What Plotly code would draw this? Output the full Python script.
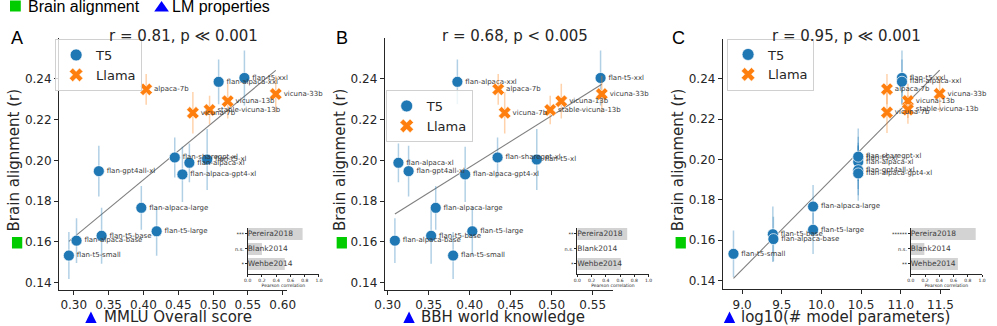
import numpy as np
import plotly.graph_objects as go

W, H = 997, 326


def fx(px):
    return px / W


def fy(py):
    return 1 - py / H


# ---------------- data ----------------
t5_models = ["flan-t5-small", "flan-t5-base", "flan-alpaca-base", "flan-t5-large",
             "flan-alpaca-large", "flan-t5-xl", "flan-alpaca-xl", "flan-sharegpt-xl",
             "flan-gpt4all-xl", "flan-alpaca-gpt4-xl", "flan-t5-xxl", "flan-alpaca-xxl"]
llama_models = ["alpaca-7b", "vicuna-7b", "vicuna-13b", "stable-vicuna-13b", "vicuna-33b"]

t5_brain = [0.1533, 0.1630, 0.1606, 0.1652, 0.1767, 0.2004, 0.1988, 0.2014,
            0.1947, 0.1931, 0.2404, 0.2385]
t5_err = [0.0115, 0.0137, 0.0110, 0.0120, 0.0107, 0.0150, 0.0095, 0.0098,
          0.0124, 0.0135, 0.0135, 0.0110]
llama_brain = [0.2348, 0.2233, 0.2290, 0.2247, 0.2325]
llama_err = [0.0075, 0.0102, 0.0085, 0.0070, 0.0090]

t5_mmlu = [0.293, 0.340, 0.304, 0.419, 0.397, 0.4915, 0.466, 0.445, 0.336, 0.456, 0.545, 0.508]
llama_mmlu = [0.404, 0.471, 0.521, 0.495, 0.590]

t5_bbh = [0.3798, 0.353, 0.3088, 0.4032, 0.3586, 0.4818, 0.3131, 0.434, 0.3255, 0.3945, 0.5596, 0.385]
llama_bbh = [0.4348, 0.4427, 0.5117, 0.4982, 0.5611]

t5_logp = [8.892, 9.388, 9.395, 9.895, 9.895, 10.464, 10.464, 10.464, 10.464, 10.464, 11.015, 11.015]
llama_logp = [10.826, 10.826, 11.09, 11.09, 11.49]

panel_letters = ["A", "B", "C"]
panel_titles = ["r = 0.81, p ≪ 0.001", "r = 0.68, p < 0.005", "r = 0.95, p ≪ 0.001"]
x_titles = ["MMLU Overall score", "BBH world knowledge", "log10(# model parameters)"]
y_title = "Brain alignment (r)"
y_ticks = [0.14, 0.16, 0.18, 0.20, 0.22, 0.24]
x_ticks_A = [0.30, 0.35, 0.40, 0.45, 0.50, 0.55, 0.60]
x_ticks_B = [0.30, 0.35, 0.40, 0.45, 0.50, 0.55]
x_ticks_C = [9.0, 9.5, 10.0, 10.5, 11.0, 11.5]

datasets = ["Pereira2018", "Blank2014", "Wehbe2014"]
inset_A = [0.77, 0.20, 0.52]
inset_B = [0.70, 0.0, 0.61]
inset_C = [0.91, 0.19, 0.66]
sig_A = ["***", "n.s.", "*"]
sig_B = ["**", "n.s.", "*"]
sig_C = ["******", "n.s.", "**"]
inset_ticks = [0.0, 0.2, 0.4, 0.6, 0.8, 1.0]

# ---------------- layout geometry (pixels) ----------------
panels = [
    dict(xs=(t5_mmlu, llama_mmlu), xt=x_ticks_A, fmt=".2f",
         xdom=(50, 282), ydom=(38, 290), xr=(0.2789, 0.6056), yr=(0.1364, 0.2600),
         title_cx=176.7, letter_x=7, tri_x=76.7, xt_x=93.3, ytitle_x=4, sq_x=2,
         legend=(46, 39), inset=(242.3, 315), vals=inset_A, sig=sig_A),
    dict(xs=(t5_bbh, llama_bbh), xt=x_ticks_B, fmt=".2f",
         xdom=(382, 615), ydom=(38, 290), xr=(0.2964, 0.5751), yr=(0.1364, 0.2600),
         title_cx=514.7, letter_x=338, tri_x=401, xt_x=417.3, ytitle_x=336, sq_x=333,
         legend=(383, 90), inset=(578.3, 651), vals=inset_B, sig=sig_B),
    dict(xs=(t5_logp, llama_logp), xt=x_ticks_C, fmt=".1f",
         xdom=(726.7, 958), ydom=(39, 289.3), xr=(8.758, 11.617), yr=(0.13574, 0.25965),
         title_cx=853, letter_x=681, tri_x=727.7, xt_x=743.3, ytitle_x=680.7, sq_x=678.5,
         legend=(731, 38.5), inset=(918.3, 991), vals=inset_C, sig=sig_C),
]

FONT = "DejaVu Sans"
AX = "#262626"
BLUE = "#1f77b4"
ORANGE = "#ff7f0e"

fig = go.Figure()
layout = dict(width=W, height=H, margin=dict(l=0, r=0, t=0, b=0),
              paper_bgcolor="white", plot_bgcolor="rgba(0,0,0,0)",
              font=dict(family=FONT, color=AX), showlegend=True)
annotations = []
shapes = []

for i, p in enumerate(panels):
    n = i + 1
    xa = "x" if n == 1 else f"x{n}"
    ya = "y" if n == 1 else f"y{n}"
    xk = "xaxis" if n == 1 else f"xaxis{n}"
    yk = "yaxis" if n == 1 else f"yaxis{n}"
    leg = "legend" if n == 1 else f"legend{n}"
    tx, lx = p["xs"]

    # regression line (OLS over all models)
    allx = np.array(tx + lx)
    ally = np.array(t5_brain + llama_brain)
    slope, icpt = np.polyfit(allx, ally, 1)
    lxs = np.array([allx.min(), allx.max()])
    fig.add_trace(go.Scatter(x=lxs, y=slope * lxs + icpt, mode="lines",
                             line=dict(color="#7f7f7f", width=1.1),
                             xaxis=xa, yaxis=ya, showlegend=False, hoverinfo="skip"))

    fig.add_trace(go.Scatter(
        x=tx, y=t5_brain, mode="markers+text", text=t5_models, textposition="middle right",
        textfont=dict(family=FONT, size=7, color="#3a3a3a"), cliponaxis=False,
        marker=dict(symbol="circle", size=11, color=BLUE, line=dict(color="white", width=0.7)),
        error_y=dict(type="data", array=t5_err, color="rgba(31,119,180,0.35)", thickness=1.5, width=0),
        xaxis=xa, yaxis=ya, showlegend=False))
    fig.add_trace(go.Scatter(
        x=lx, y=llama_brain, mode="markers+text", text=llama_models, textposition="middle right",
        textfont=dict(family=FONT, size=7, color="#3a3a3a"), cliponaxis=False,
        marker=dict(symbol="x", size=11, color=ORANGE, line=dict(color="white", width=0.5)),
        error_y=dict(type="data", array=llama_err, color="rgba(255,127,14,0.35)", thickness=1.5, width=0),
        xaxis=xa, yaxis=ya, showlegend=False))
    # legend entries
    fig.add_trace(go.Scatter(x=[None], y=[None], mode="markers", name="T5",
                             marker=dict(symbol="circle", size=12, color=BLUE, line=dict(color="white", width=0.7)),
                             xaxis=xa, yaxis=ya, legend=leg))
    fig.add_trace(go.Scatter(x=[None], y=[None], mode="markers", name="Llama",
                             marker=dict(symbol="x", size=12, color=ORANGE, line=dict(color="white", width=0.5)),
                             xaxis=xa, yaxis=ya, legend=leg))

    layout[xk] = dict(domain=[fx(p["xdom"][0]), fx(p["xdom"][1])], range=list(p["xr"]),
                      anchor=ya, showline=True, linecolor=AX, linewidth=1,
                      ticks="outside", ticklen=4, tickwidth=1, tickcolor=AX,
                      tickvals=p["xt"], tickformat=p["fmt"],
                      tickfont=dict(family=FONT, size=12, color=AX),
                      showgrid=False, zeroline=False)
    layout[yk] = dict(domain=[fy(p["ydom"][1]), fy(p["ydom"][0])], range=list(p["yr"]),
                      anchor=xa, showline=True, linecolor=AX, linewidth=1,
                      ticks="outside", ticklen=4, tickwidth=1, tickcolor=AX,
                      tickvals=y_ticks, tickformat=".2f",
                      tickfont=dict(family=FONT, size=12, color=AX),
                      showgrid=False, zeroline=False)
    layout[leg] = dict(x=fx(p["legend"][0]), y=fy(p["legend"][1]), xanchor="left", yanchor="top",
                       bgcolor="rgba(255,255,255,0.8)", bordercolor="#d0d0d0", borderwidth=1,
                       font=dict(family=FONT, size=13, color=AX), traceorder="normal",
                       tracegroupgap=0, itemwidth=30)

    # ----- inset bar chart -----
    m = n + 3
    ixa, iya = f"x{m}", f"y{m}"
    fig.add_trace(go.Bar(x=p["vals"], y=[0, 1, 2], orientation="h", width=0.8,
                         marker=dict(color="#d3d3d3", line=dict(width=0)),
                         xaxis=ixa, yaxis=iya, showlegend=False, hoverinfo="skip"))
    fig.add_trace(go.Scatter(x=[0, 0, 0], y=[0, 1, 2], mode="text", text=datasets,
                             textposition="middle right", cliponaxis=False,
                             textfont=dict(family=FONT, size=7.5, color="#404040"),
                             xaxis=ixa, yaxis=iya, showlegend=False, hoverinfo="skip"))
    layout[f"xaxis{m}"] = dict(domain=[fx(p["inset"][0]), fx(p["inset"][1])], range=[0, 1.0],
                               anchor=iya, showline=True, linecolor=AX, linewidth=0.6,
                               ticks="outside", ticklen=2, tickwidth=0.6, tickcolor=AX,
                               tickvals=inset_ticks, tickformat=".1f",
                               tickfont=dict(family=FONT, size=4.5, color=AX),
                               title=dict(text="Pearson correlation", standoff=1,
                                          font=dict(family=FONT, size=4.5, color=AX)),
                               showgrid=False, zeroline=False)
    layout[f"yaxis{m}"] = dict(domain=[fy(274), fy(227.7)], range=[2.67, -0.42],
                               anchor=ixa, showline=True, linecolor=AX, linewidth=0.6,
                               ticks="outside", ticklen=2, tickwidth=0.6, tickcolor=AX,
                               tickvals=[0, 1, 2], ticktext=p["sig"],
                               tickfont=dict(family=FONT, size=5, color=AX),
                               showgrid=False, zeroline=False)

    # ----- text annotations -----
    annotations.append(dict(text=panel_titles[i], x=fx(p["title_cx"]), y=fy(36), xref="paper", yref="paper",
                            xanchor="center", yanchor="middle", showarrow=False,
                            font=dict(family=FONT, size=15, color=AX)))
    annotations.append(dict(text=panel_letters[i], x=fx(p["letter_x"]), y=fy(38), xref="paper", yref="paper",
                            xanchor="center", yanchor="middle", showarrow=False,
                            font=dict(family="Liberation Sans", size=18, color="black")))
    annotations.append(dict(text=x_titles[i], x=fx(p["xt_x"]), y=fy(316.5), xref="paper", yref="paper",
                            xanchor="left", yanchor="middle", showarrow=False,
                            font=dict(family=FONT, size=15, color=AX)))
    annotations.append(dict(text=y_title, x=fx(p["ytitle_x"]), y=fy(233), xref="paper", yref="paper",
                            xanchor="center", yanchor="bottom", showarrow=False, textangle=-90,
                            font=dict(family=FONT, size=15, color=AX)))
    # blue triangle before x title
    tx0 = p["tri_x"]
    shapes.append(dict(type="path", xref="paper", yref="paper",
                       path=f"M {fx(tx0)} {fy(323)} L {fx(tx0 + 11.6)} {fy(323)} L {fx(tx0 + 5.8)} {fy(311.5)} Z",
                       fillcolor="#0000ff", line=dict(width=0)))
    # green square below y title
    sx0 = p["sq_x"]
    shapes.append(dict(type="rect", xref="paper", yref="paper",
                       x0=fx(sx0), x1=fx(sx0 + 10.5), y0=fy(248.5), y1=fy(237),
                       fillcolor="#00cc00", line=dict(width=0)))

# top legend
shapes.append(dict(type="rect", xref="paper", yref="paper", x0=fx(0), x1=fx(11), y0=fy(11.5), y1=fy(0.5),
                   fillcolor="#00cc00", line=dict(width=0)))
shapes.append(dict(type="path", xref="paper", yref="paper",
                   path=f"M {fx(147)} {fy(11.5)} L {fx(162)} {fy(11.5)} L {fx(154.5)} {fy(1)} Z",
                   fillcolor="#0000ff", line=dict(width=0)))
annotations.append(dict(text="Brain alignment", x=fx(16), y=fy(6.5), xref="paper", yref="paper",
                        xanchor="left", yanchor="middle", showarrow=False,
                        font=dict(family="Liberation Sans", size=16, color="black")))
annotations.append(dict(text="LM properties", x=fx(163), y=fy(6.5), xref="paper", yref="paper",
                        xanchor="left", yanchor="middle", showarrow=False,
                        font=dict(family="Liberation Sans", size=16, color="black")))

layout["annotations"] = annotations
layout["shapes"] = shapes
fig.update_layout(**layout)
fig.write_html("out.html", config={"displayModeBar": False},
               post_script="document.body.style.margin='0px';document.body.style.overflow='hidden';")
